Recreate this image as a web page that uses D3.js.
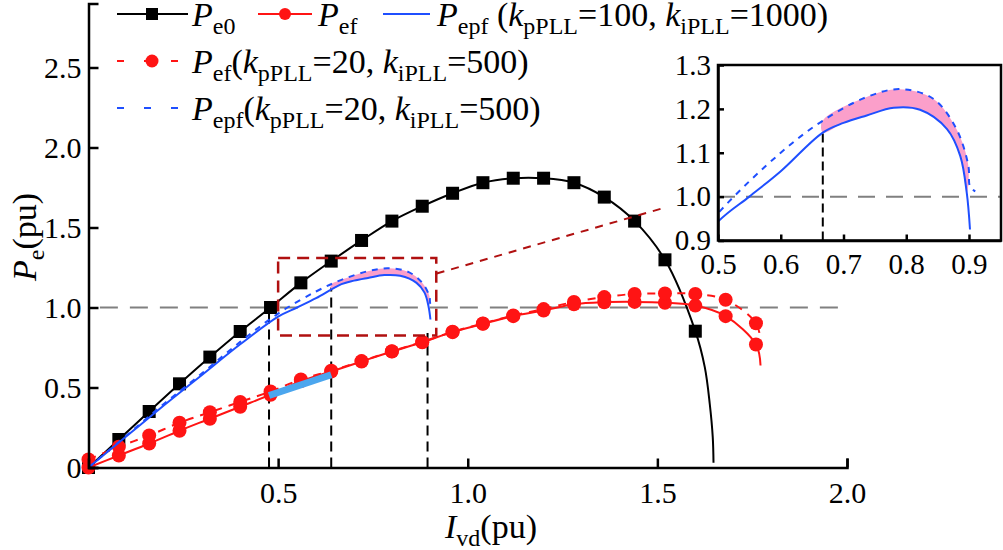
<!DOCTYPE html>
<head>
<meta charset="utf-8">
<title>Pe vs Ivd</title>
<style>
    body {
        margin: 0;
        background: #fff;
    }
</style>
</head>
<body>
<script src="https://d3js.org/d3.v7.min.js"></script>
<script>

    // P_e0 (black squares)
    const pe0X = [0, 0.08, 0.16, 0.24, 0.32, 0.40, 0.48, 0.56, 0.64, 0.72, 0.80, 0.88, 0.96, 1.04, 1.12, 1.20, 1.28, 1.36, 1.44, 1.52, 1.60];
    const pe0Y = [0, 0.175, 0.35, 0.523, 0.69, 0.85, 1.0, 1.154, 1.29, 1.419, 1.54, 1.633, 1.714, 1.78, 1.808, 1.808, 1.78, 1.69, 1.54, 1.298, 0.852];
    const pe0TailX = [1.625, 1.638, 1.646, 1.648];
    const pe0TailY = [0.627, 0.40, 0.19, 0.03];

    // P_ef (red circles) and P_ef with kpPLL=20, kiPLL=500 (red dashed)
    const pefX = [0, 0.08, 0.16, 0.24, 0.32, 0.40, 0.48, 0.56, 0.64, 0.72, 0.80, 0.88, 0.96, 1.04, 1.12, 1.20, 1.28, 1.36, 1.44, 1.52, 1.60, 1.68, 1.76];
    const pefY = [0, 0.075, 0.15, 0.23, 0.305, 0.38, 0.455, 0.54, 0.6, 0.6625, 0.725, 0.783, 0.846, 0.898, 0.946, 0.981, 1.02, 1.033, 1.035, 1.03, 1.012, 0.946, 0.769];
    const pefTail = [1.772, 0.6375];
    const pefDashY = [0.05, 0.13, 0.2, 0.28, 0.345, 0.41, 0.475, 0.55, 0.605, 0.665, 0.727, 0.785, 0.848, 0.9, 0.95, 0.99, 1.035, 1.065, 1.085, 1.088, 1.085, 1.048, 0.902];
    const pefDashTail = [1.772, 0.79];

    // P_epf (blue solid) and P_epf with kpPLL=20, kiPLL=500 (blue dashed)
    const epfX = [0, 0.1, 0.2, 0.3, 0.4, 0.5, 0.55, 0.6, 0.667, 0.7, 0.737, 0.78, 0.822, 0.865, 0.886, 0.8965, 0.9016];
    const epfY = [0, 0.195, 0.39, 0.58, 0.77, 0.943, 1.0, 1.058, 1.146, 1.168, 1.185, 1.2026, 1.198, 1.154, 1.093, 1.008, 0.925];
    const epfDashX = [0, 0.1, 0.2, 0.3, 0.4, 0.5, 0.6, 0.667, 0.737, 0.79, 0.843, 0.88, 0.899, 0.9016, 0.91];
    const epfDashY = [0, 0.2, 0.4, 0.59, 0.785, 0.962, 1.1, 1.173, 1.227, 1.245, 1.223, 1.154, 1.07, 1.023, 1.012];

    // light blue segment on P_ef
    const segX = [0.476, 0.64];
    const segY = [0.45, 0.58];

    // reference marks
    const vMarkX = [0.476, 0.64, 0.894];
    const vMarkTop = [1.0, 1.125, 0.84];
    const insetMarkX = 0.667;
    const insetMarkTop = 1.173;
    const zoomBoxX = [0.5, 0.917];
    const zoomBoxY = [0.825, 1.31];
    const connX = [0.918, 1.512];
    const connY = [1.2125, 1.619];

    const xTicks = [0.5, 1.0, 1.5, 2.0];
    const yTicks = [0, 0.5, 1.0, 1.5, 2.0, 2.5];
    const insetXTicks = [0.5, 0.6, 0.7, 0.8, 0.9];
    const insetYTicks = [0.9, 1.0, 1.1, 1.2, 1.3];

    const BLACK = "#000", RED = "#ff1414", BLUE = "#1f4fff", PINK = "#fb9fca", DARKRED = "#b01010";
    const SERIF = '"Liberation Serif"';

    const zip = (xs, ys) => xs.map((v, i) => [v, ys[i]]);
    const pe0 = zip(pe0X, pe0Y);
    const pe0Line = pe0.concat(zip(pe0TailX, pe0TailY));
    const pef = zip(pefX, pefY);
    const pefDash = zip(pefX, pefDashY);
    const epf = zip(epfX, epfY);
    const epfDash = zip(epfDashX, epfDashY);

    const svg = d3.select("body").append("svg")
        .attr("width", 1003)
        .attr("height", 550);

    const x = d3.scaleLinear().domain([0, 2]).range([88.5, 847]);
    const y = d3.scaleLinear().domain([0, 2.9]).range([467.5, 3.5]);

    // interpolate a series at xv (for the pink band edges)
    function interp(s, xv) {
        for (let i = 1; i < s.length; i++) {
            if (s[i][0] >= xv) {
                const t = (xv - s[i - 1][0]) / (s[i][0] - s[i - 1][0]);
                return s[i - 1][1] + t * (s[i][1] - s[i - 1][1]);
            }
        }
        return s[s.length - 1][1];
    }

    function band(x0, x1) {
        const top = [[x0, interp(epfDash, x0)]].concat(epfDash.filter(d => d[0] > x0 && d[0] <= x1));
        const bot = [[x0, interp(epf, x0)]].concat(epf.filter(d => d[0] > x0 && d[0] <= x1));
        return top.concat(bot.reverse());
    }

    function drawCurves(g, sx, sy, bandStart, withMarkers) {
        const line = d3.line().x(d => sx(d[0])).y(d => sy(d[1])).curve(d3.curveCatmullRom.alpha(0.5));
        const poly = d3.line().x(d => sx(d[0])).y(d => sy(d[1])).curve(d3.curveCatmullRomClosed.alpha(0.5));

        g.append("path")
            .attr("d", poly(band(bandStart, 0.9)))
            .attr("fill", PINK)
            .attr("stroke", "none");

        if (withMarkers) {
            g.append("path").datum(pe0Line)
                .attr("d", line).attr("fill", "none").attr("stroke", BLACK).attr("stroke-width", 2);
            g.selectAll(".sq").data(pe0).join("rect")
                .attr("x", d => sx(d[0]) - 6.5).attr("y", d => sy(d[1]) - 6.5)
                .attr("width", 13).attr("height", 13).attr("fill", BLACK);

            g.append("path").datum(pef.concat([pefTail]))
                .attr("d", line).attr("fill", "none").attr("stroke", RED).attr("stroke-width", 2);
            g.selectAll(".c1").data(pef).join("circle")
                .attr("cx", d => sx(d[0])).attr("cy", d => sy(d[1])).attr("r", 7).attr("fill", RED);

            g.append("path").datum(pefDash.concat([pefDashTail]))
                .attr("d", line).attr("fill", "none").attr("stroke", RED).attr("stroke-width", 2)
                .attr("stroke-dasharray", "8,7");
            g.selectAll(".c2").data(pefDash).join("circle")
                .attr("cx", d => sx(d[0])).attr("cy", d => sy(d[1])).attr("r", 7).attr("fill", RED);
        }

        g.append("path").datum(epf)
            .attr("d", line).attr("fill", "none").attr("stroke", BLUE).attr("stroke-width", 2);
        g.append("path").datum(epfDash)
            .attr("d", line).attr("fill", "none").attr("stroke", BLUE).attr("stroke-width", 2)
            .attr("stroke-dasharray", "6,6");
    }

    function styleAxis(g, size) {
        g.select(".domain").attr("stroke", BLACK).attr("stroke-width", 2.5);
        g.selectAll(".tick line").attr("stroke", BLACK).attr("stroke-width", 2.5);
        g.selectAll(".tick text").attr("fill", BLACK)
            .style("font-family", SERIF).style("font-size", size + "px");
    }

    // rich text with italic letters and subscripts
    function rich(parent, px, py, parts, size, subSize, anchor) {
        const t = parent.append("text").attr("x", px).attr("y", py)
            .style("font-family", SERIF)
            .style("font-size", size + "px")
            .attr("text-anchor", anchor || "start");
        let down = false;
        parts.forEach(p => {
            const ts = t.append("tspan").text(p[0]);
            if (p[1] === "i") ts.style("font-style", "italic");
            if (p[1] === "s") {
                ts.style("font-size", subSize + "px");
                if (!down) { ts.attr("dy", 8); down = true; }
            } else if (down) {
                ts.attr("dy", -8);
                down = false;
            }
        });
        return t;
    }

    // ---------- main plot ----------
    const main = svg.append("g");

    main.append("line")
        .attr("x1", x(0.03)).attr("x2", x(2)).attr("y1", y(1)).attr("y2", y(1))
        .attr("stroke", "#808080").attr("stroke-width", 2).attr("stroke-dasharray", "18,12");

    main.selectAll(".vmark").data(vMarkX).join("line")
        .attr("x1", d => x(d)).attr("x2", d => x(d))
        .attr("y1", y(0)).attr("y2", (d, i) => y(vMarkTop[i]))
        .attr("stroke", BLACK).attr("stroke-width", 2).attr("stroke-dasharray", "10,6");

    drawCurves(main, x, y, vMarkX[1], true);

    main.append("path").datum(zip(segX, segY))
        .attr("d", d3.line().x(d => x(d[0])).y(d => y(d[1])))
        .attr("stroke", "#4ba6ee").attr("stroke-width", 7).attr("fill", "none");

    main.append("rect")
        .attr("x", x(zoomBoxX[0])).attr("y", y(zoomBoxY[1]))
        .attr("width", x(zoomBoxX[1]) - x(zoomBoxX[0])).attr("height", y(zoomBoxY[0]) - y(zoomBoxY[1]))
        .attr("fill", "none").attr("stroke", DARKRED).attr("stroke-width", 2.5).attr("stroke-dasharray", "12,7");

    main.append("line")
        .attr("x1", x(connX[0])).attr("y1", y(connY[0])).attr("x2", x(connX[1])).attr("y2", y(connY[1]))
        .attr("stroke", DARKRED).attr("stroke-width", 2).attr("stroke-dasharray", "8,7");

    const xAxis = main.append("g")
        .attr("transform", `translate(0,${y(0)})`)
        .call(d3.axisBottom(x).tickValues(xTicks).tickFormat(d3.format(".1f"))
            .tickSize(-9).tickSizeOuter(-9).tickPadding(14));
    styleAxis(xAxis, 30);

    const yAxis = main.append("g")
        .attr("transform", `translate(${x(0)},0)`)
        .call(d3.axisLeft(y).tickValues(yTicks).tickFormat(d => d === 0 ? "0" : d3.format(".1f")(d))
            .tickSize(-10).tickSizeOuter(-10).tickPadding(7));
    styleAxis(yAxis, 30);

    rich(svg, 491, 538, [["I", "i"], ["vd", "s"], ["(pu)", ""]], 34, 24, "middle");
    rich(svg.append("g").attr("transform", "translate(36,237) rotate(-90)"), 0, 0,
        [["P", "i"], ["e", "s"], ["(pu)", ""]], 34, 24, "middle");

    // ---------- inset ----------
    const ix = d3.scaleLinear().domain([0.5, 0.951]).range([718, 1001]);
    const iy = d3.scaleLinear().domain([0.9, 1.3]).range([240.5, 65]);

    const inset = svg.append("g");
    inset.append("rect")
        .attr("x", ix(0.5)).attr("y", iy(1.3))
        .attr("width", ix(0.951) - ix(0.5)).attr("height", iy(0.9) - iy(1.3))
        .attr("fill", "#fff");

    svg.append("clipPath").attr("id", "iclip").append("rect")
        .attr("x", ix(0.5)).attr("y", iy(1.3))
        .attr("width", ix(0.951) - ix(0.5)).attr("height", iy(0.9) - iy(1.3));

    const ig = inset.append("g").attr("clip-path", "url(#iclip)");

    ig.append("line")
        .attr("x1", ix(0.5)).attr("x2", ix(0.951)).attr("y1", iy(1)).attr("y2", iy(1))
        .attr("stroke", "#808080").attr("stroke-width", 2).attr("stroke-dasharray", "17,11");

    ig.append("line")
        .attr("x1", ix(insetMarkX)).attr("x2", ix(insetMarkX))
        .attr("y1", iy(0.9)).attr("y2", iy(insetMarkTop))
        .attr("stroke", BLACK).attr("stroke-width", 2).attr("stroke-dasharray", "9,5");

    drawCurves(ig, ix, iy, insetMarkX, false);

    inset.append("rect")
        .attr("x", ix(0.5)).attr("y", iy(1.3))
        .attr("width", ix(0.951) - ix(0.5)).attr("height", iy(0.9) - iy(1.3))
        .attr("fill", "none").attr("stroke", BLACK).attr("stroke-width", 2.5);

    const ixAxis = inset.append("g")
        .attr("transform", `translate(0,${iy(0.9)})`)
        .call(d3.axisBottom(ix).tickValues(insetXTicks).tickFormat(d3.format(".1f"))
            .tickSize(-6).tickSizeOuter(0).tickPadding(13));
    styleAxis(ixAxis, 29);

    const iyAxis = inset.append("g")
        .attr("transform", `translate(${ix(0.5)},0)`)
        .call(d3.axisLeft(iy).tickValues(insetYTicks).tickFormat(d3.format(".1f"))
            .tickSize(-6).tickSizeOuter(0).tickPadding(7));
    styleAxis(iyAxis, 29);

    // ---------- legend ----------
    const leg = svg.append("g");
    const FS = 34, SS = 24;

    leg.append("line").attr("x1", 117).attr("x2", 188).attr("y1", 14).attr("y2", 14)
        .attr("stroke", BLACK).attr("stroke-width", 2);
    leg.append("rect").attr("x", 146).attr("y", 8).attr("width", 12).attr("height", 12).attr("fill", BLACK);
    rich(leg, 192, 26, [["P", "i"], ["e0", "s"]], FS, SS);

    leg.append("line").attr("x1", 258).attr("x2", 312).attr("y1", 14).attr("y2", 14)
        .attr("stroke", RED).attr("stroke-width", 2);
    leg.append("circle").attr("cx", 285).attr("cy", 14).attr("r", 6).attr("fill", RED);
    rich(leg, 318, 26, [["P", "i"], ["ef", "s"]], FS, SS);

    leg.append("line").attr("x1", 383).attr("x2", 430).attr("y1", 14).attr("y2", 14)
        .attr("stroke", BLUE).attr("stroke-width", 2);
    rich(leg, 437, 26, [["P", "i"], ["epf", "s"], [" (", ""], ["k", "i"], ["pPLL", "s"], ["=100, ", ""],
        ["k", "i"], ["iPLL", "s"], ["=1000)", ""]], FS, SS);

    leg.append("line").attr("x1", 117).attr("x2", 178).attr("y1", 61).attr("y2", 61)
        .attr("stroke", RED).attr("stroke-width", 2).attr("stroke-dasharray", "7,20");
    leg.append("circle").attr("cx", 152).attr("cy", 61).attr("r", 6.5).attr("fill", RED);
    rich(leg, 192, 73, [["P", "i"], ["ef", "s"], ["(", ""], ["k", "i"], ["pPLL", "s"], ["=20, ", ""],
        ["k", "i"], ["iPLL", "s"], ["=500)", ""]], FS, SS);

    leg.append("line").attr("x1", 117).attr("x2", 178).attr("y1", 108).attr("y2", 108)
        .attr("stroke", BLUE).attr("stroke-width", 2).attr("stroke-dasharray", "7,20");
    rich(leg, 192, 120, [["P", "i"], ["epf", "s"], ["(", ""], ["k", "i"], ["pPLL", "s"], ["=20, ", ""],
        ["k", "i"], ["iPLL", "s"], ["=500)", ""]], FS, SS);

</script>
</body>
